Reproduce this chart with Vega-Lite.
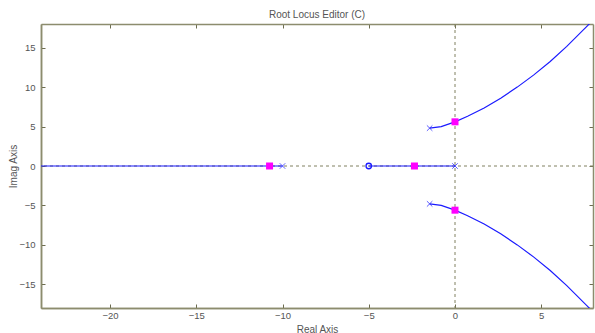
{
  "$schema": "https://vega.github.io/schema/vega-lite/v6.json",
  "width": 552,
  "height": 284,
  "autosize": "none",
  "padding": {"left": 41, "top": 24, "right": 2, "bottom": 25},
  "title": {"text": "Root Locus Editor (C)", "fontSize": 10, "fontWeight": "normal", "color": "#555555", "font": "Liberation Sans", "offset": 4},
  "config": {
    "view": {"stroke": null},
    "axis": {
      "grid": false,
      "domainColor": "#8c8c6e",
      "labelColor": "#555555",
      "labelFont": "Liberation Sans",
      "labelFontSize": 9.5,
      "titleColor": "#555555",
      "titleFont": "Liberation Sans",
      "titleFontSize": 10,
      "titleFontWeight": "normal"
    }
  },
  "datasets": {
    "branches": [
      {"branch": "b1", "order": 0, "x": -10, "y": 0},
      {"branch": "b1", "order": 1, "x": -24.5, "y": 0},
      {"branch": "b2", "order": 0, "x": 0, "y": 0},
      {"branch": "b2", "order": 1, "x": -5, "y": 0},
      {"branch": "b3", "order": 0, "x": -1.47, "y": 4.8},
      {"branch": "b3", "order": 1, "x": -0.8, "y": 5.0},
      {"branch": "b3", "order": 2, "x": 0, "y": 5.6},
      {"branch": "b3", "order": 3, "x": 0.73, "y": 6.3},
      {"branch": "b3", "order": 4, "x": 1.69, "y": 7.35},
      {"branch": "b3", "order": 5, "x": 2.65, "y": 8.6},
      {"branch": "b3", "order": 6, "x": 3.61, "y": 10.0},
      {"branch": "b3", "order": 7, "x": 4.57, "y": 11.55},
      {"branch": "b3", "order": 8, "x": 5.52, "y": 13.24},
      {"branch": "b3", "order": 9, "x": 6.48, "y": 15.16},
      {"branch": "b3", "order": 10, "x": 7.73, "y": 17.89},
      {"branch": "b3", "order": 11, "x": 8.3, "y": 19.1},
      {"branch": "b4", "order": 0, "x": -1.47, "y": -4.8},
      {"branch": "b4", "order": 1, "x": -0.8, "y": -5.0},
      {"branch": "b4", "order": 2, "x": 0, "y": -5.6},
      {"branch": "b4", "order": 3, "x": 0.73, "y": -6.3},
      {"branch": "b4", "order": 4, "x": 1.69, "y": -7.35},
      {"branch": "b4", "order": 5, "x": 2.65, "y": -8.6},
      {"branch": "b4", "order": 6, "x": 3.61, "y": -10.0},
      {"branch": "b4", "order": 7, "x": 4.57, "y": -11.55},
      {"branch": "b4", "order": 8, "x": 5.52, "y": -13.24},
      {"branch": "b4", "order": 9, "x": 6.48, "y": -15.16},
      {"branch": "b4", "order": 10, "x": 7.73, "y": -17.89},
      {"branch": "b4", "order": 11, "x": 8.3, "y": -19.1}
    ],
    "poles": [
      {"x": -10, "y": 0},
      {"x": 0, "y": 0},
      {"x": -1.47, "y": 4.8},
      {"x": -1.47, "y": -4.8}
    ],
    "zeros": [
      {"x": -5, "y": 0}
    ],
    "closed": [
      {"x": -10.75, "y": 0},
      {"x": -2.35, "y": 0},
      {"x": 0, "y": 5.6},
      {"x": 0, "y": -5.6}
    ]
  },
  "resolve": {"axis": {"x": "independent", "y": "independent"}},
  "layer": [
    {
      "data": {"values": [{"v": 0}]},
      "mark": {"type": "rule", "color": "#808060", "strokeDash": [3, 3], "strokeWidth": 1},
      "encoding": {
        "x": {"datum": 0, "type": "quantitative", "scale": {"domain": [-24, 8], "nice": false, "zero": false},
              "axis": {"orient": "bottom", "offset": -284, "labels": false, "title": null, "ticks": true, "tickSize": 4, "tickWidth": 1, "tickColor": "#6c6c50", "tickOpacity": 1, "domainWidth": 1.5, "values": [-20, -15, -10, -5, 0, 5]}}
      }
    },
    {
      "data": {"values": [{"v": 0}]},
      "mark": {"type": "rule", "color": "#808060", "strokeDash": [3, 3], "strokeWidth": 1},
      "encoding": {
        "y": {"datum": 0, "type": "quantitative", "scale": {"domain": [-18, 18], "nice": false, "zero": false},
              "axis": {"orient": "left", "offset": -552, "labels": false, "title": null, "ticks": true, "tickSize": 4, "tickWidth": 1, "tickColor": "#6c6c50", "tickOpacity": 1, "domainWidth": 1.5, "values": [-15, -10, -5, 0, 5, 10, 15]}}
      }
    },
    {
      "data": {"name": "branches"},
      "mark": {"type": "line", "color": "#1a1aff", "strokeWidth": 1.2, "clip": true},
      "encoding": {
        "x": {"field": "x", "type": "quantitative", "scale": {"domain": [-24, 8], "nice": false, "zero": false},
              "axis": {"orient": "bottom", "title": "Real Axis", "ticks": false, "domainWidth": 1.5, "values": [-20, -15, -10, -5, 0, 5], "labelPadding": 2, "titleY": 21, "titleBaseline": "middle"}},
        "y": {"field": "y", "type": "quantitative", "scale": {"domain": [-18, 18], "nice": false, "zero": false},
              "axis": {"orient": "left", "title": "Imag Axis", "ticks": false, "domainWidth": 1.5, "values": [-15, -10, -5, 0, 5, 10, 15], "labelPadding": 6, "titleX": -28, "titleBaseline": "middle"}},
        "detail": {"field": "branch"},
        "order": {"field": "order", "type": "quantitative"}
      }
    },
    {
      "data": {"name": "poles"},
      "mark": {"type": "point", "shape": "M-1,-1L1,1M1,-1L-1,1", "size": 30, "filled": false, "color": "#1a1aff", "strokeWidth": 1},
      "encoding": {
        "x": {"field": "x", "type": "quantitative",
              "axis": {"orient": "top", "offset": -284, "labels": false, "title": null, "ticks": true, "tickSize": 4, "tickWidth": 1, "tickColor": "#6c6c50", "tickOpacity": 1, "domainWidth": 1.5, "values": [-20, -15, -10, -5, 0, 5]}},
        "y": {"field": "y", "type": "quantitative", "axis": null}
      }
    },
    {
      "data": {"name": "zeros"},
      "mark": {"type": "point", "shape": "circle", "size": 30, "filled": false, "color": "#1a1aff", "strokeWidth": 1.3, "opacity": 1},
      "encoding": {
        "x": {"field": "x", "type": "quantitative", "axis": null},
        "y": {"field": "y", "type": "quantitative",
              "axis": {"orient": "right", "offset": -552, "labels": false, "title": null, "ticks": true, "tickSize": 4, "tickWidth": 1, "tickColor": "#6c6c50", "tickOpacity": 1, "domainWidth": 1.5, "values": [-15, -10, -5, 0, 5, 10, 15]}}
      }
    },
    {
      "data": {"name": "closed"},
      "mark": {"type": "point", "shape": "square", "size": 49, "filled": true, "color": "#ff00ff", "opacity": 1},
      "encoding": {
        "x": {"field": "x", "type": "quantitative", "axis": null},
        "y": {"field": "y", "type": "quantitative", "axis": null}
      }
    }
  ]
}
